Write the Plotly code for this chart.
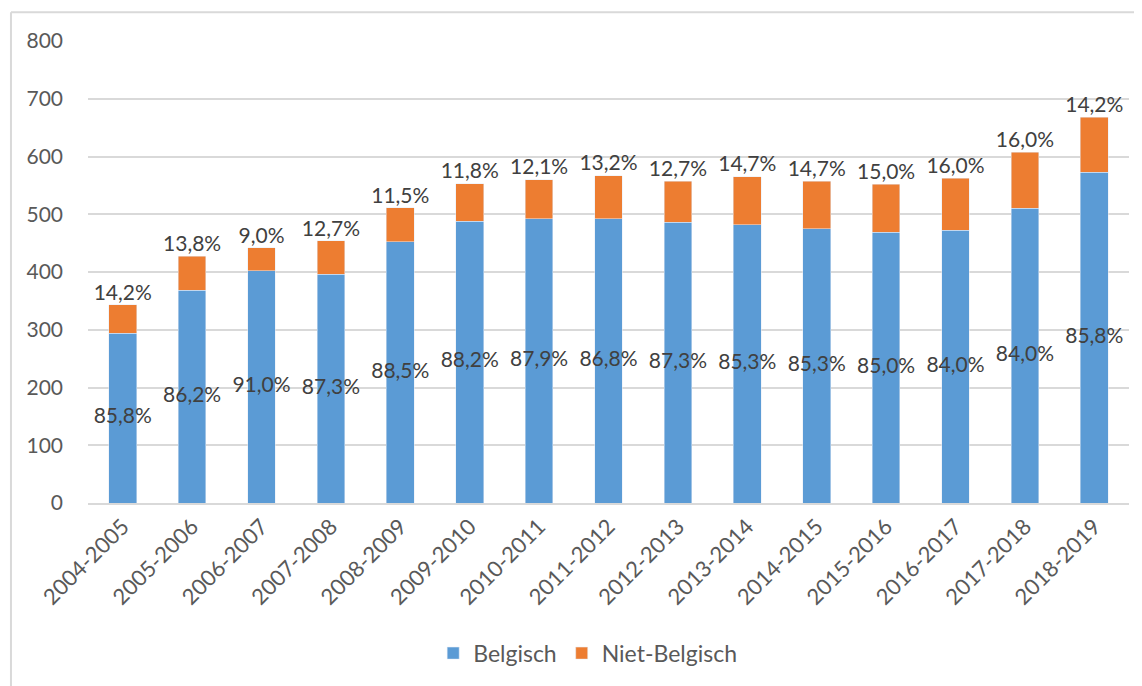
import plotly.graph_objects as go

# schooljaren en aantallen
years = ["2004-2005", "2005-2006", "2006-2007", "2007-2008", "2008-2009",
         "2009-2010", "2010-2011", "2011-2012", "2012-2013", "2013-2014",
         "2014-2015", "2015-2016", "2016-2017", "2017-2018", "2018-2019"]
belgisch = [294, 368, 402, 396, 452, 488, 492, 492, 486, 482, 475, 469, 472, 510, 573]
niet_belgisch = [49, 59, 40, 58, 59, 65, 68, 75, 71, 83, 82, 83, 90, 97, 95]
pct_belgisch = ["85,8%", "86,2%", "91,0%", "87,3%", "88,5%", "88,2%", "87,9%", "86,8%",
                "87,3%", "85,3%", "85,3%", "85,0%", "84,0%", "84,0%", "85,8%"]
pct_niet = ["14,2%", "13,8%", "9,0%", "12,7%", "11,5%", "11,8%", "12,1%", "13,2%",
            "12,7%", "14,7%", "14,7%", "15,0%", "16,0%", "16,0%", "14,2%"]
y_ticks = [0, 100, 200, 300, 400, 500, 600, 700, 800]

totals = [b + n for b, n in zip(belgisch, niet_belgisch)]
mid_belgisch = [b / 2 for b in belgisch]

FONT = "Lato"
BLUE = "#5b9bd5"
ORANGE = "#ed7d31"
LABEL = dict(color="#404040", size=21, family=FONT)

fig = go.Figure()
fig.add_trace(go.Bar(x=years, y=belgisch, name="Belgisch", marker_color=BLUE))
fig.add_trace(go.Bar(x=years, y=niet_belgisch, name="Niet-Belgisch", marker_color=ORANGE))

# percentages midden in het blauwe deel en boven de balk
fig.add_trace(go.Scatter(
    x=years, y=mid_belgisch, mode="text", text=pct_belgisch, textposition="middle center",
    textfont=LABEL, showlegend=False, hoverinfo="skip", cliponaxis=False,
))
fig.add_trace(go.Scatter(
    x=years, y=totals, mode="text", text=pct_niet, textposition="top center",
    textfont=LABEL, showlegend=False, hoverinfo="skip", cliponaxis=False,
))

# de pagina zet de figuur 8px naar rechts en naar onder (body-marge)
fig.update_layout(
    width=1134, height=678,
    barmode="stack", bargap=0.6,
    plot_bgcolor="white", paper_bgcolor="white",
    margin=dict(l=80, r=13, t=33, b=181),
    font=dict(family=FONT, color="#595959", size=20),
    legend=dict(orientation="h", traceorder="normal", x=0.48, xanchor="center",
                y=-0.325, yanchor="middle", font=dict(size=23, color="#595959")),
    shapes=[
        dict(type="line", xref="paper", yref="paper", x0=-0.074, x1=-0.074, y0=1.0625, y1=-0.4,
             line=dict(color="#d9d9d9", width=2)),
        dict(type="line", xref="paper", yref="paper", x0=-0.074, x1=1.02, y0=1.0625, y1=1.0625,
             line=dict(color="#d9d9d9", width=2)),
    ],
)
# tekst-traces mogen de categorie-as niet verbreden
fig.update_xaxes(range=[-0.5, len(years) - 0.5], tickangle=-45, showgrid=False, showline=True,
                 linecolor="#d9d9d9", linewidth=2, ticks="", automargin=False,
                 tickfont=dict(size=22, color="#595959"))
fig.update_yaxes(range=[0, 800], tickvals=y_ticks, gridcolor="#d9d9d9", gridwidth=2,
                 zeroline=False, showline=False, ticks="", ticklabelstandoff=24,
                 automargin=False, tickfont=dict(size=21, color="#595959"))

fig.write_html("out.html")
